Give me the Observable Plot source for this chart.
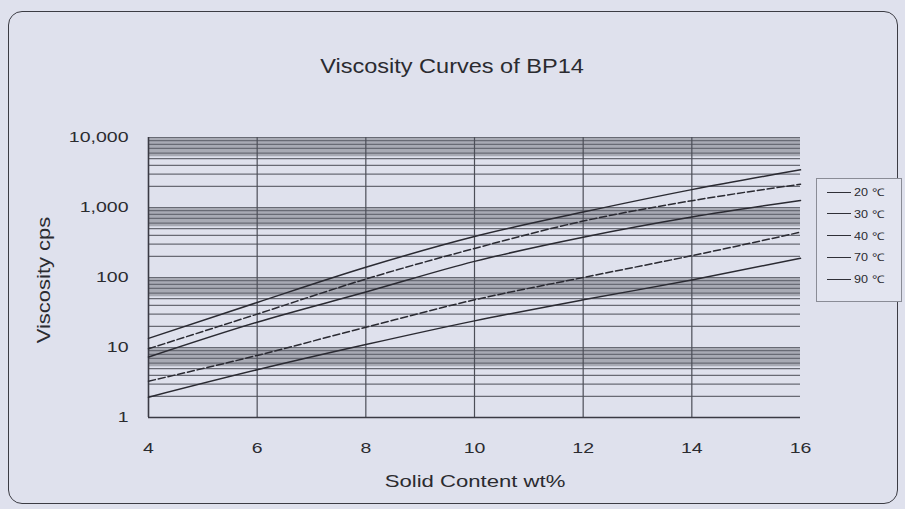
<!DOCTYPE html>
<html><head><meta charset="utf-8">
<script src="https://cdn.jsdelivr.net/npm/d3@7"></script>
<script src="https://cdn.jsdelivr.net/npm/@observablehq/plot@0.6"></script>
<style>
body{margin:0;background:#dfe1ed;}
#wrap{position:relative;width:905px;height:509px;overflow:hidden;font-family:"Liberation Sans",Arial,sans-serif;color:#2b2b30;background:#dfe1ed}
#card{position:absolute;left:8px;top:11px;width:890px;height:493px;border:1.6px solid #3c3c44;border-radius:14px;box-sizing:border-box}
#chart{position:absolute;left:0;top:0}
.t{position:absolute;white-space:nowrap;line-height:1}
#title{left:452px;top:55px;font-size:21px;transform:translateX(-50%) scaleX(1.12)}
#xlab{left:475px;top:473px;font-size:17px;transform:translateX(-50%) scaleX(1.3)}
#ylab{left:44px;top:280px;font-size:18px;transform:translate(-50%,-50%) rotate(-90deg) scaleX(1.22)}
#legend{position:absolute;left:816px;top:178px;width:86px;height:124px;border:1px solid #8a8c96;box-sizing:border-box;background:#e3e5f0}
.li{position:absolute;left:10px;height:12px;display:flex;align-items:center;font-size:10.5px}
.li .sw{display:inline-block;width:24px;border-top:1.5px solid #303038;margin-right:3px}
.li span.lab{display:inline-block;transform:scaleX(1.2);transform-origin:left center}
</style></head>
<body>
<div id="wrap">
  <div id="card"></div>
  <div id="chart"></div>
  <div class="t" id="title">Viscosity Curves of BP14</div>
  <div class="t" id="ylab">Viscosity cps</div>
  <div class="t" id="xlab">Solid Content wt%</div>
  <div id="legend"></div>
</div>
<script>
// ---- data ----
const temps = ["20 ℃", "30 ℃", "40 ℃", "70 ℃", "90 ℃"];
const solidContent = [4, 6, 8, 10, 12, 14, 16];
const visc20 = [13.5, 44, 140, 385, 860, 1800, 3450];
const visc30 = [9.6, 30, 95, 260, 640, 1250, 2150];
const visc40 = [7.3, 23, 62, 170, 376, 730, 1260];
const visc70 = [3.3, 7.7, 19.5, 48, 100, 205, 444];
const visc90 = [1.95, 4.8, 11, 24, 48, 92, 188];
const xTicks = [4, 6, 8, 10, 12, 14, 16];
const yTicks = [1, 10, 100, 1000, 10000];

const series = [visc20, visc30, visc40, visc70, visc90];
const dashes = [null, "7,3", null, "7,3", null];

const rows = [];
series.forEach((vals, i) => vals.forEach((v, j) => rows.push({t: temps[i], s: solidContent[j], v})));

// log grid: minor lines and dense (grey) band near the top of every decade
const decades = yTicks.slice(0, -1);
const minor = [];
decades.forEach(d => { for (let k = 1; k < 10; k++) minor.push(k * d); });
minor.push(yTicks[yTicks.length - 1]);
const bands = decades.map(d => ({lo: 5.3 * d, hi: 10 * d}));

const lineMarks = temps.map((t, i) => Plot.line(rows.filter(r => r.t === t), {
  x: "s", y: "v", stroke: "#2a2a32", strokeWidth: 1.5,
  strokeDasharray: dashes[i] || undefined, curve: "monotone-x"
}));

const chart = Plot.plot({
  width: 905, height: 509,
  marginLeft: 148, marginRight: 105, marginTop: 137, marginBottom: 92,
  style: {background: "transparent", fontFamily: "'Liberation Sans', Arial, sans-serif", fontSize: "15px", color: "#2b2b30"},
  x: {domain: [xTicks[0], xTicks[xTicks.length - 1]], ticks: xTicks, tickSize: 0, tickPadding: 25, label: null},
  y: {type: "log", domain: [yTicks[0], yTicks[yTicks.length - 1]], ticks: yTicks, tickFormat: d3.format(","), tickSize: 0, tickPadding: 20, label: null},
  marks: [
    Plot.rect(bands, {y1: "lo", y2: "hi", fill: "#a8aab4"}),
    Plot.ruleY(minor, {stroke: "#686a74", strokeWidth: 1.2}),
    Plot.ruleX(xTicks.slice(1, -1), {stroke: "#4c4e58", strokeWidth: 1.2}),
    Plot.ruleX([xTicks[0]], {stroke: "#3a3a44", strokeWidth: 1.6}),
    Plot.ruleY([yTicks[0]], {stroke: "#3a3a44", strokeWidth: 1.6}),
    ...lineMarks
  ]
});
document.getElementById("chart").appendChild(chart);

// stretch tick labels horizontally to match the reference's wide lettering
chart.querySelectorAll('g[aria-label$="tick label"] text').forEach(el => {
  const w = el.getComputedTextLength();
  el.setAttribute("textLength", (w * 1.3).toFixed(1));
  el.setAttribute("lengthAdjust", "spacingAndGlyphs");
});

// legend
const leg = document.getElementById("legend");
temps.forEach((t, i) => {
  const d = document.createElement("div");
  d.className = "li";
  d.style.top = (7 + i * 21.8) + "px";
  d.innerHTML = '<span class="sw"></span><span class="lab">' + t + '</span>';
  leg.appendChild(d);
});
</script>
</body></html>
